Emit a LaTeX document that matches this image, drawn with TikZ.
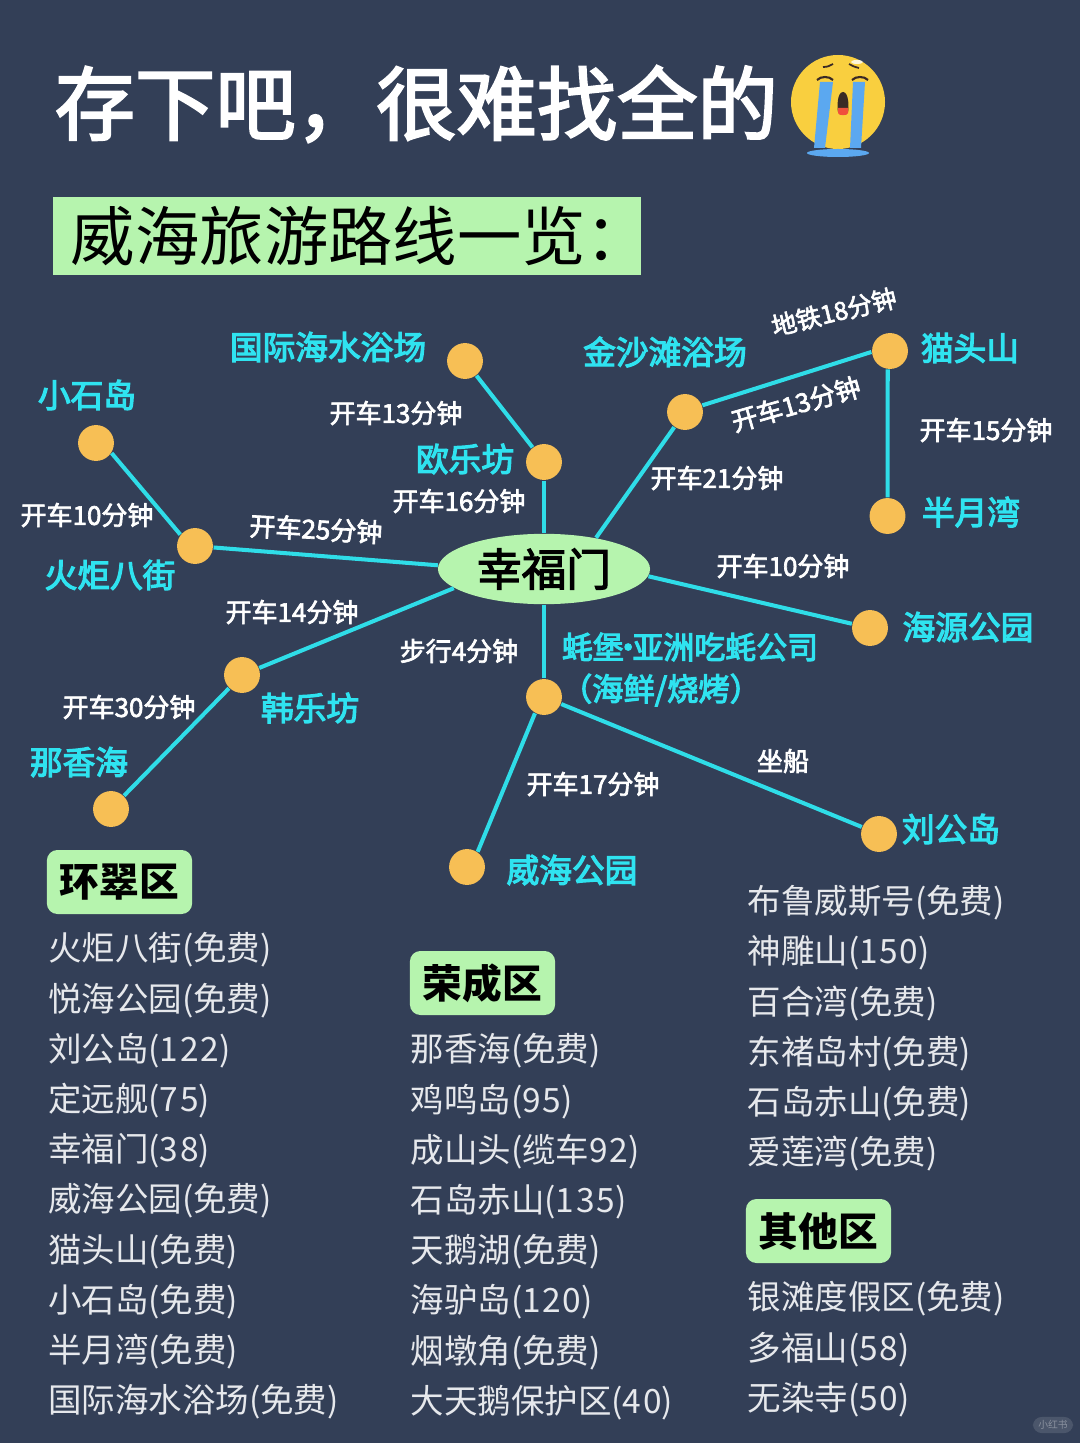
\documentclass[tikz,border=0pt]{standalone}
\usepackage{fontspec}
\setmainfont{Noto Sans CJK SC}
\newfontfamily\midfont[FakeBold=2.6]{Noto Sans CJK SC}
\newfontfamily\semifont[FakeBold=3.6]{Noto Sans CJK SC}
\usetikzlibrary{calc}
\usetikzlibrary{shapes.geometric}
\definecolor{slatebg}{HTML}{333F57}
\definecolor{cyanline}{HTML}{2FDDE8}
\definecolor{dotyellow}{HTML}{F7BF55}
\definecolor{palegreen}{HTML}{B6F4AE}
\definecolor{cyanword}{HTML}{2FE3F0}
\definecolor{listgray}{HTML}{E6E8EC}
\definecolor{faceyellow}{HTML}{F9CF3F}
\definecolor{tearblue}{HTML}{5BA8F0}
\definecolor{mouthred}{HTML}{F0503C}
\definecolor{mouthdark}{HTML}{3A2A25}
\newcommand{\nums}[1]{{\addfontfeature{LetterSpace=5}#1}}
\tikzset{
    stopdot/.style={circle,fill=dotyellow,inner sep=0pt,minimum size=10.2pt},
    road/.style={cyanline,line width=1.15pt},
    placeword/.style={text=cyanword,inner sep=0pt,font=\semifont\fontsize{9.3}{11}\selectfont},
    timeword/.style={text=white,inner sep=0pt,font=\midfont\fontsize{7.4}{9}\selectfont},
    sectag/.style={fill=palegreen,rounded corners=3pt,inner sep=0pt,minimum width=41.3pt,minimum height=18.2pt,text=black,font=\bfseries\fontsize{11.3}{13}\selectfont},
    listword/.style={text=listgray,anchor=west,inner sep=0pt,font=\fontsize{9.52}{11}\selectfont}
}
\begin{document}
\begin{tikzpicture}[x=0.01cm,y=-0.01cm]
\fill[slatebg] (0,0) rectangle (1080,1443);
\useasboundingbox (0,0) rectangle (1080,1443);

\coordinate (xiaoshi) at (96,443);
\coordinate (huoju) at (195,546);
\coordinate (guoji) at (465,361);
\coordinate (oule) at (544,462);
\coordinate (jinsha) at (685,412);
\coordinate (maotou) at (890,351);
\coordinate (banyue) at (887.5,516);
\coordinate (haiyuan) at (870,628);
\coordinate (haobao) at (544,697);
\coordinate (liugong) at (879,834);
\coordinate (weihai) at (467,867);
\coordinate (hanle) at (242,675);
\coordinate (naxiang) at (111,809);

\newcommand{\stopat}[1]{
    \node[stopdot] (#1dot) at (#1) {};
}
\newcommand{\roadway}[2]{
    \draw[road] (#1)--(#2);
}
\newcommand{\placetag}[3]{
    \node[placeword] (#1tag) at (#2) {#3};
}
\newcommand{\timetag}[4]{
    \node[timeword,rotate=#3] (#1time) at (#2) {#4};
}

% title
\node[text=white,inner sep=0pt,anchor=west,font=\midfont\fontsize{22.85}{26}\selectfont] (title) at (54,104) {存下吧，很难找全的};
\node[fill=palegreen,inner xsep=5.1pt,inner ysep=0pt,minimum height=22.2pt,text width=157pt,align=left,font=\fontsize{18.3}{22}\selectfont] (subtitle) at (347,236) {威海旅游路线一览：};

% crying face
\fill[faceyellow] (838,102) circle[radius=47];
\fill[white,opacity=.8] (857,62) ellipse[x radius=6,y radius=2];
\draw[mouthdark,line width=.5pt] (823,67) .. controls (827,67) and (830,66) .. (833,64);
\draw[mouthdark,line width=.5pt] (849,64) .. controls (852,66) and (855,67) .. (859,68);
\fill[mouthdark] (843,92) .. controls (849,92) and (849,108) .. (848,112) -- (838,112) .. controls (837,108) and (837,92) .. (843,92) -- cycle;
\fill[mouthred] (838,108) -- (848,108) -- (848,113) .. controls (848,116) and (838,116) .. (838,113) -- cycle;
\fill[tearblue] (820,82) -- (833,82) -- (825,148) -- (814,148) -- cycle;
\fill[tearblue] (853,82) -- (865,82) -- (861,148) -- (850,148) -- cycle;
\fill[tearblue] (838,153) ellipse[x radius=31,y radius=4];
\draw[mouthdark,line width=.6pt] (817,80) .. controls (821,76) and (829,76) .. (833,80);
\draw[mouthdark,line width=.6pt] (852,80) .. controls (856,76) and (864,76) .. (868,80);

% route map
\node[ellipse,fill=palegreen,inner sep=0pt,minimum width=60.3pt,minimum height=20pt,font=\midfont\fontsize{12.7}{15}\selectfont] (hub) at (544,569) {幸福门};
\stopat{xiaoshi}
\stopat{huoju}
\stopat{guoji}
\stopat{oule}
\stopat{jinsha}
\stopat{maotou}
\stopat{banyue}
\stopat{haiyuan}
\stopat{haobao}
\stopat{liugong}
\stopat{weihai}
\stopat{hanle}
\stopat{naxiang}

\roadway{xiaoshidot.-33}{huojudot.142}
\roadway{huojudot}{hub.178}
\roadway{guojidot}{ouledot}
\roadway{ouledot}{hub}
\roadway{jinshadot}{hub.31}
\roadway{jinshadot.21}{maotoudot.183}
\roadway{maotoudot.-97}{banyuedot}
\roadway{hub.-4}{haiyuandot}
\roadway{hub}{haobaodot}
\roadway{haobaodot}{liugongdot}
\roadway{haobaodot.241}{weihaidot.55}
\roadway{hub.192}{hanledot}
\roadway{hanledot}{naxiangdot}

\placetag{xiaoshi}{87,395}{小石岛}
\placetag{huoju}{110,575}{火炬八街}
\placetag{guoji}{328,347}{国际海水浴场}
\placetag{oule}{465,459}{欧乐坊}
\placetag{jinsha}{665,352}{金沙滩浴场}
\placetag{maotou}{970,348}{猫头山}
\placetag{banyue}{971,512}{半月湾}
\placetag{haiyuan}{968,627}{海源公园}
\placetag{haobao}{690,647}{\fontsize{8.8}{10}\selectfont 蚝堡\kern-.36em·\kern-.36em亚洲吃蚝公司}
\placetag{haixian}{661,690}{\fontsize{8.9}{10}\selectfont （海鲜/烧烤）}
\placetag{liugong}{951,829}{刘公岛}
\placetag{weihai}{572,870}{威海公园}
\placetag{hanle}{310,708}{韩乐坊}
\placetag{naxiang}{79,762}{那香海}

\timetag{ditie}{834,312}{13.5}{\fontsize{7.1}{9}\selectfont 地铁18分钟}
\timetag{jinmao}{796,404}{16}{开车13分钟}
\timetag{guoou}{396,413}{0}{开车13分钟}
\timetag{oucen}{459,501}{0}{开车16分钟}
\timetag{cenjin}{717,478}{0}{开车21分钟}
\timetag{maoban}{986,430}{0}{开车15分钟}
\timetag{xiaohuo}{87,515}{0}{开车10分钟}
\timetag{huocen}{316,529}{-3}{开车25分钟}
\timetag{cenhai}{783,566}{0}{开车10分钟}
\timetag{cenhan}{292,612}{0}{开车14分钟}
\timetag{cenhao}{459,651}{0}{步行4分钟}
\timetag{hanna}{129,707}{0}{开车30分钟}
\timetag{haoliu}{783,761}{0}{坐船}
\timetag{haowei}{593,784}{0}{开车17分钟}

% lists
\node[sectag] (huancui) at (119.5,882) {环翠区};
\node[sectag] (rongcheng) at (482.5,983) {荣成区};
\node[sectag] (qita) at (818.5,1231) {其他区};

\foreach \word [count=\i from 0] in {火炬八街(免费),悦海公园(免费),刘公岛(\nums{122}),定远舰(\nums{75}),幸福门(\nums{38}),威海公园(免费),猫头山(免费),小石岛(免费),半月湾(免费),国际海水浴场(免费)}
    \node[listword] (huan\i) at (47.5,{950+50.2*\i}) {\word};
\foreach \word [count=\i from 0] in {那香海(免费),鸡鸣岛(\nums{95}),成山头(缆车\nums{92}),石岛赤山(\nums{135}),天鹅湖(免费),海驴岛(\nums{120}),烟墩角(免费),大天鹅保护区(\nums{40})}
    \node[listword] (rong\i) at (410,{1051+50.2*\i}) {\word};
\foreach \word [count=\i from 0] in {布鲁威斯号(免费),神雕山(\nums{150}),百合湾(免费),东褚岛村(免费),石岛赤山(免费),爱莲湾(免费)}
    \node[listword] (bu\i) at (747,{903+50.2*\i}) {\word};
\foreach \word [count=\i from 0] in {银滩度假区(免费),多福山(\nums{58}),无染寺(\nums{50})}
    \node[listword] (qi\i) at (747,{1299+50.4*\i}) {\word};

% watermark
\node[fill=white,fill opacity=.12,text opacity=.35,text=white,rounded corners=2.5pt,inner xsep=1.5pt,inner ysep=1pt,font=\fontsize{2.8}{3.2}\selectfont] (mark) at (1053,1425) {小红书};
\end{tikzpicture}
\end{document}
